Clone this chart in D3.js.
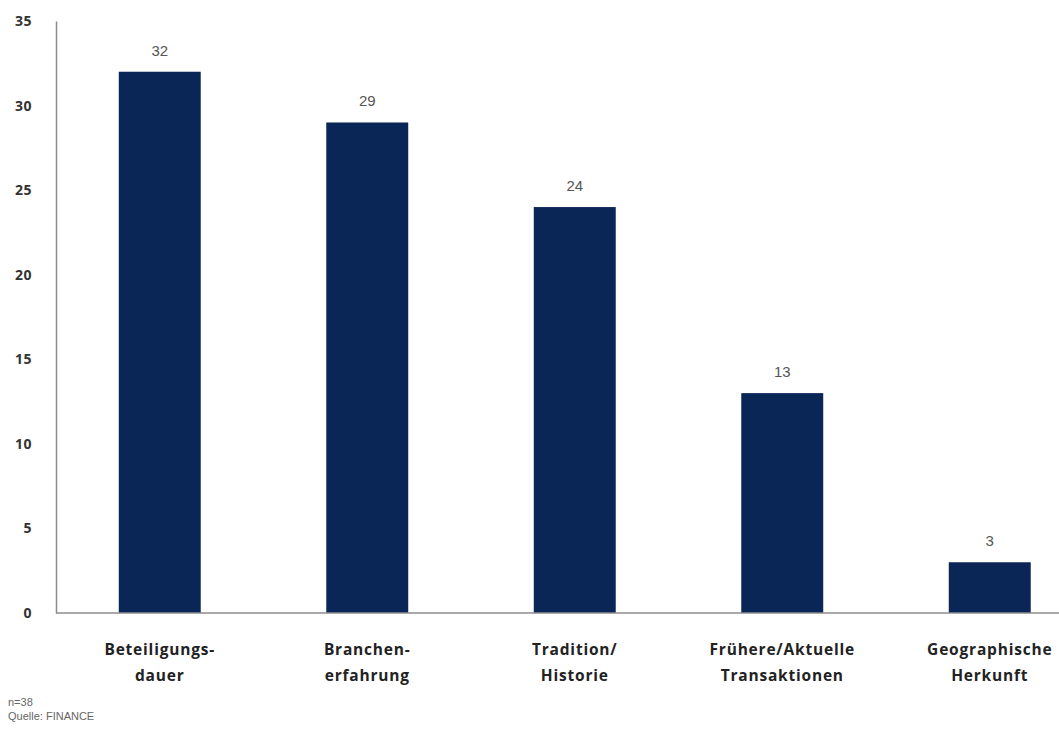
<!DOCTYPE html>
<html>
<head>
<meta charset="utf-8">
<script src="https://cdn.jsdelivr.net/npm/d3@7"></script>
<style>
	body { margin: 0; background: #fff; }
	svg { display: block; }
</style>
</head>
<body>
<div id="chart"></div>
<script>
var WIDTH = 1059;
var HEIGHT = 729;

var categories = [
	["Beteiligungs-", "dauer"],
	["Branchen-", "erfahrung"],
	["Tradition/", "Historie"],
	["Frühere/Aktuelle", "Transaktionen"],
	["Geographische", "Herkunft"]
];
var values = [32, 29, 24, 13, 3];
var yTicks = [0, 5, 10, 15, 20, 25, 30, 35];
var notes = ["n=38", "Quelle: FINANCE"];

var margin = { top: 21, left: 56, bottom: 116 };
var plotBottom = HEIGHT - margin.bottom;

var svg = d3.select("#chart")
	.append("svg")
	.attr("width", WIDTH)
	.attr("height", HEIGHT);

var x = d3.scaleBand()
	.domain(d3.range(categories.length))
	.range([margin.left, margin.left + 207.5 * categories.length])
	.paddingInner(0.605)
	.paddingOuter(0.3025);

var y = d3.scaleLinear()
	.domain([0, 35])
	.range([plotBottom, margin.top]);

// y axis: line + labels, no ticks
var yAxis = svg.append("g")
	.attr("transform", `translate(${margin.left},0)`)
	.call(d3.axisLeft(y).tickValues(yTicks).tickSize(0).tickPadding(24));
yAxis.select(".domain").attr("stroke", "#8c8c8c").attr("stroke-width", 1.5);
yAxis.selectAll("text")
	.style("font-family", "'Open Sans', sans-serif")
	.style("font-size", "14px")
	.style("font-weight", "bold")
	.style("letter-spacing", "0.5px")
	.attr("fill", "#333");

// bars
svg.selectAll(".bar")
	.data(values)
	.join("rect")
	.attr("class", "bar")
	.attr("x", (d, i) => x(i))
	.attr("y", d => y(d))
	.attr("width", x.bandwidth())
	.attr("height", d => plotBottom - y(d))
	.attr("fill", "#0a2657");

// x axis line
svg.append("line")
	.attr("x1", margin.left)
	.attr("x2", WIDTH)
	.attr("y1", plotBottom)
	.attr("y2", plotBottom)
	.attr("stroke", "#8c8c8c")
	.attr("stroke-width", 1.5);

// value labels
svg.selectAll(".value")
	.data(values)
	.join("text")
	.attr("class", "value")
	.attr("x", (d, i) => x(i) + x.bandwidth() / 2)
	.attr("y", d => y(d) - 16)
	.attr("text-anchor", "middle")
	.style("font-family", "'Liberation Sans', Arial, sans-serif")
	.style("font-size", "15px")
	.attr("fill", "#555")
	.text(d => d);

// category labels
var catLabels = svg.selectAll(".cat")
	.data(categories)
	.join("text")
	.attr("class", "cat")
	.attr("text-anchor", "middle")
	.style("font-family", "'Open Sans', sans-serif")
	.style("font-size", "15.5px")
	.style("font-weight", "bold")
	.style("letter-spacing", "0.8px")
	.attr("fill", "#222");
catLabels.selectAll("tspan")
	.data((d, i) => d.map(t => ({ t, i })))
	.join("tspan")
	.attr("x", d => x(d.i) + x.bandwidth() / 2)
	.attr("y", (d, j) => plotBottom + 42 + j * 26)
	.text(d => d.t);

// footnotes
svg.selectAll(".note")
	.data(notes)
	.join("text")
	.attr("class", "note")
	.attr("x", 8)
	.attr("y", (d, i) => 706 + i * 14)
	.style("font-family", "'Liberation Sans', Arial, sans-serif")
	.style("font-size", "11px")
	.attr("fill", "#666")
	.text(d => d);
</script>
</body>
</html>
